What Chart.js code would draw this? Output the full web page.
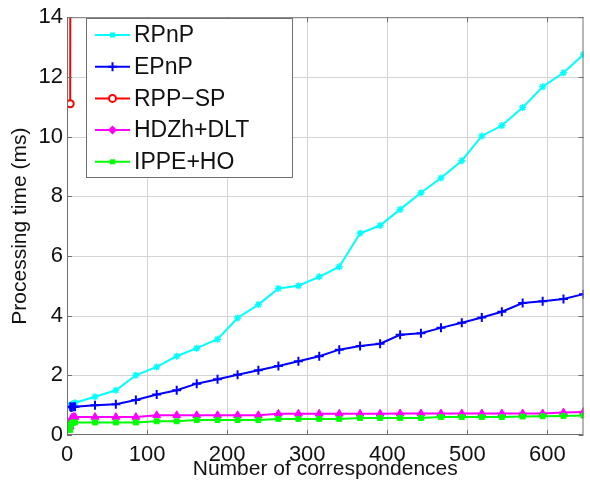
<!DOCTYPE html>
<html><head><meta charset="utf-8">
<script src="https://cdn.jsdelivr.net/npm/chart.js@4.4.0/dist/chart.umd.min.js"></script>
<style>html,body{margin:0;padding:0;background:#fff;} canvas{display:block}</style>
</head><body>
<canvas id="c" width="590" height="486"></canvas>
<script>
// ---- data ----
const xValues = [4, 5, 6, 8, 10, 35, 61, 86, 112, 137, 162, 188, 213, 239, 264, 289, 315, 340, 366, 391, 416, 442, 467, 493, 518, 543, 569, 594, 620, 645];
const rpnp = [1.0, 1.0, 1.02, 1.05, 1.08, 1.28, 1.5, 2.0, 2.28, 2.64, 2.91, 3.21, 3.92, 4.37, 4.91, 5.0, 5.3, 5.64, 6.76, 7.02, 7.56, 8.12, 8.61, 9.19, 10.02, 10.37, 10.97, 11.67, 12.14, 12.75];
const epnp = [0.95, 0.93, 0.93, 0.95, 0.95, 1.0, 1.03, 1.17, 1.36, 1.5, 1.72, 1.87, 2.02, 2.17, 2.31, 2.47, 2.64, 2.86, 2.98, 3.06, 3.36, 3.41, 3.59, 3.76, 3.94, 4.13, 4.42, 4.48, 4.56, 4.72];
const rppX = [4, 5, 6];
const rppY = [11.1, 45, 80];
const hdzh = [0.28, 0.5, 0.58, 0.6, 0.6, 0.6, 0.6, 0.6, 0.66, 0.66, 0.66, 0.66, 0.66, 0.66, 0.71, 0.71, 0.71, 0.71, 0.71, 0.71, 0.72, 0.72, 0.72, 0.72, 0.72, 0.72, 0.72, 0.72, 0.75, 0.77];
const ippe = [0.17, 0.35, 0.4, 0.42, 0.42, 0.42, 0.42, 0.42, 0.46, 0.46, 0.5, 0.5, 0.5, 0.5, 0.54, 0.54, 0.54, 0.54, 0.57, 0.57, 0.57, 0.57, 0.6, 0.6, 0.6, 0.6, 0.62, 0.63, 0.64, 0.65];
const xTicks = [0, 100, 200, 300, 400, 500, 600];
const yTicks = [0, 2, 4, 6, 8, 10, 12, 14];
const seriesLabels = ['RPnP', 'EPnP', 'RPP\u2212SP', 'HDZh+DLT', 'IPPE+HO'];
const seriesColors = ['#00ffff', '#0000ff', '#ff0000', '#ff00ff', '#00ff00'];
const xTitle = 'Number of correspondences';
const yTitle = 'Processing time (ms)';

const FONT = "'Liberation Sans', Arial, Helvetica, sans-serif";
const pts = (xs, ys) => xs.map((x, i) => ({x: x, y: ys[i]}));

const styles = [
  {pointStyle: 'star', pointRadius: 3.5, pointBorderWidth: 1.5, fill: false},
  {pointStyle: 'cross', pointRadius: 4.5, pointBorderWidth: 2, fill: false},
  {pointStyle: 'circle', pointRadius: 3.5, pointBorderWidth: 2, fill: 'white'},
  {pointStyle: 'triangle', pointRadius: 4.5, pointBorderWidth: 1, fill: true},
  {pointStyle: 'rect', pointRadius: 3.5, pointBorderWidth: 1, fill: true}
];
const seriesData = [pts(xValues, rpnp), pts(xValues, epnp), pts(rppX, rppY), pts(xValues, hdzh), pts(xValues, ippe)];

const datasets = seriesData.map((d, i) => ({
  label: seriesLabels[i],
  data: d,
  borderColor: seriesColors[i],
  backgroundColor: styles[i].fill === 'white' ? '#ffffff' : seriesColors[i],
  pointBackgroundColor: styles[i].fill === 'white' ? '#ffffff' : seriesColors[i],
  pointBorderColor: seriesColors[i],
  borderWidth: 2,
  pointStyle: styles[i].pointStyle,
  pointRadius: styles[i].pointRadius,
  pointBorderWidth: styles[i].pointBorderWidth,
  tension: 0,
  fill: false,
  order: 5 - i
}));

function drawMarker(ctx, style, color, x, y) {
  ctx.save();
  ctx.strokeStyle = color;
  ctx.fillStyle = color;
  const r = style.pointRadius;
  ctx.lineWidth = style.pointBorderWidth;
  ctx.beginPath();
  if (style.pointStyle === 'circle') {
    ctx.fillStyle = '#fff';
    ctx.arc(x, y, r, 0, Math.PI * 2);
    ctx.fill(); ctx.stroke();
  } else if (style.pointStyle === 'cross') {
    ctx.moveTo(x - r, y); ctx.lineTo(x + r, y);
    ctx.moveTo(x, y - r); ctx.lineTo(x, y + r);
    ctx.stroke();
  } else if (style.pointStyle === 'triangle') {
    ctx.moveTo(x, y - r); ctx.lineTo(x + r, y); ctx.lineTo(x, y + r); ctx.lineTo(x - r, y); ctx.closePath();
    ctx.fill();
  } else {
    ctx.rect(x - 2.5, y - 2.5, 5, 5); ctx.fill();
  }
  ctx.restore();
}

function drawGrid(chart) {
  const {ctx, chartArea: a, scales: {x, y}} = chart;
  ctx.save();
  ctx.globalCompositeOperation = 'destination-over';
  ctx.strokeStyle = '#d4d4d4';
  ctx.lineWidth = 1;
  ctx.beginPath();
  xTicks.forEach(v => {
    if (v === 0) return;
    const px = Math.round(x.getPixelForValue(v)) + 0.5;
    ctx.moveTo(px, a.bottom); ctx.lineTo(px, a.top);
  });
  yTicks.forEach(v => {
    if (v === 0 || v === 14) return;
    const py = Math.round(y.getPixelForValue(v)) + 0.5;
    ctx.moveTo(a.left, py); ctx.lineTo(a.right, py);
  });
  ctx.stroke();
  ctx.restore();
}

const framePlugin = {
  id: 'frame',
  afterDraw(chart) {
    const {ctx, chartArea: a, scales: {x, y}} = chart;
    drawGrid(chart);
    ctx.save();
    ctx.strokeStyle = '#707070';
    ctx.lineWidth = 1;
    ctx.strokeRect(a.left + 0.5, a.top + 0.5, a.right - a.left - 1, a.bottom - a.top - 1);
    ctx.beginPath();
    xTicks.forEach(v => {
      const px = Math.round(x.getPixelForValue(v)) + 0.5;
      ctx.moveTo(px, a.bottom); ctx.lineTo(px, a.bottom - 5);
      ctx.moveTo(px, a.top); ctx.lineTo(px, a.top + 5);
    });
    yTicks.forEach(v => {
      const py = Math.round(y.getPixelForValue(v)) + 0.5;
      ctx.moveTo(a.left, py); ctx.lineTo(a.left + 5, py);
      ctx.moveTo(a.right, py); ctx.lineTo(a.right - 5, py);
    });
    ctx.stroke();

    // legend box
    const L = 86.5, T = 18.5, W = 206, H = 159;
    ctx.fillStyle = '#fff';
    ctx.fillRect(L, T, W, H);
    ctx.strokeStyle = '#707070';
    ctx.strokeRect(L, T, W, H);
    ctx.font = '23px ' + FONT;
    ctx.textBaseline = 'middle';
    ctx.textAlign = 'left';
    chart.data.datasets.forEach((ds, i) => {
      const cy = 35 + i * 31.7;
      ctx.strokeStyle = ds.borderColor;
      ctx.lineWidth = 2;
      ctx.beginPath();
      ctx.moveTo(95, cy); ctx.lineTo(130, cy);
      ctx.stroke();
      drawMarker(ctx, styles[i], ds.borderColor, 112.5, cy);
      ctx.fillStyle = '#111';
      ctx.fillText(ds.label, 134, cy + 1);
    });
    ctx.restore();
  }
};

new Chart(document.getElementById('c'), {
  type: 'line',
  data: {datasets: datasets},
  options: {
    responsive: false,
    animation: false,
    layout: {padding: {top: 15, right: 2, left: 0, bottom: 0}},
    plugins: {legend: {display: false}, tooltip: {enabled: false}},
    scales: {
      x: {
        type: 'linear', min: 0, max: 645,
        afterBuildTicks: s => { s.ticks = xTicks.map(v => ({value: v})); },
        afterFit: s => { s.height = 51; },
        ticks: {font: {size: 22, family: FONT}, color: '#111', padding: 7, maxRotation: 0, autoSkip: false},
        grid: {display: false, drawTicks: false},
        border: {display: false},
        title: {display: true, text: xTitle, font: {size: 21, family: FONT}, color: '#111', padding: {top: 0, bottom: 4}}
      },
      y: {
        type: 'linear', min: 0, max: 14,
        afterBuildTicks: s => { s.ticks = yTicks.map(v => ({value: v})); },
        afterFit: s => { s.width = 67; },
        ticks: {font: {size: 22, family: FONT}, color: '#111', padding: 4},
        grid: {display: false, drawTicks: false},
        border: {display: false},
        title: {display: true, text: yTitle, font: {size: 21, family: FONT}, color: '#111', padding: {top: 8, bottom: 0}}
      }
    }
  },
  plugins: [framePlugin]
});
</script>
</body></html>
